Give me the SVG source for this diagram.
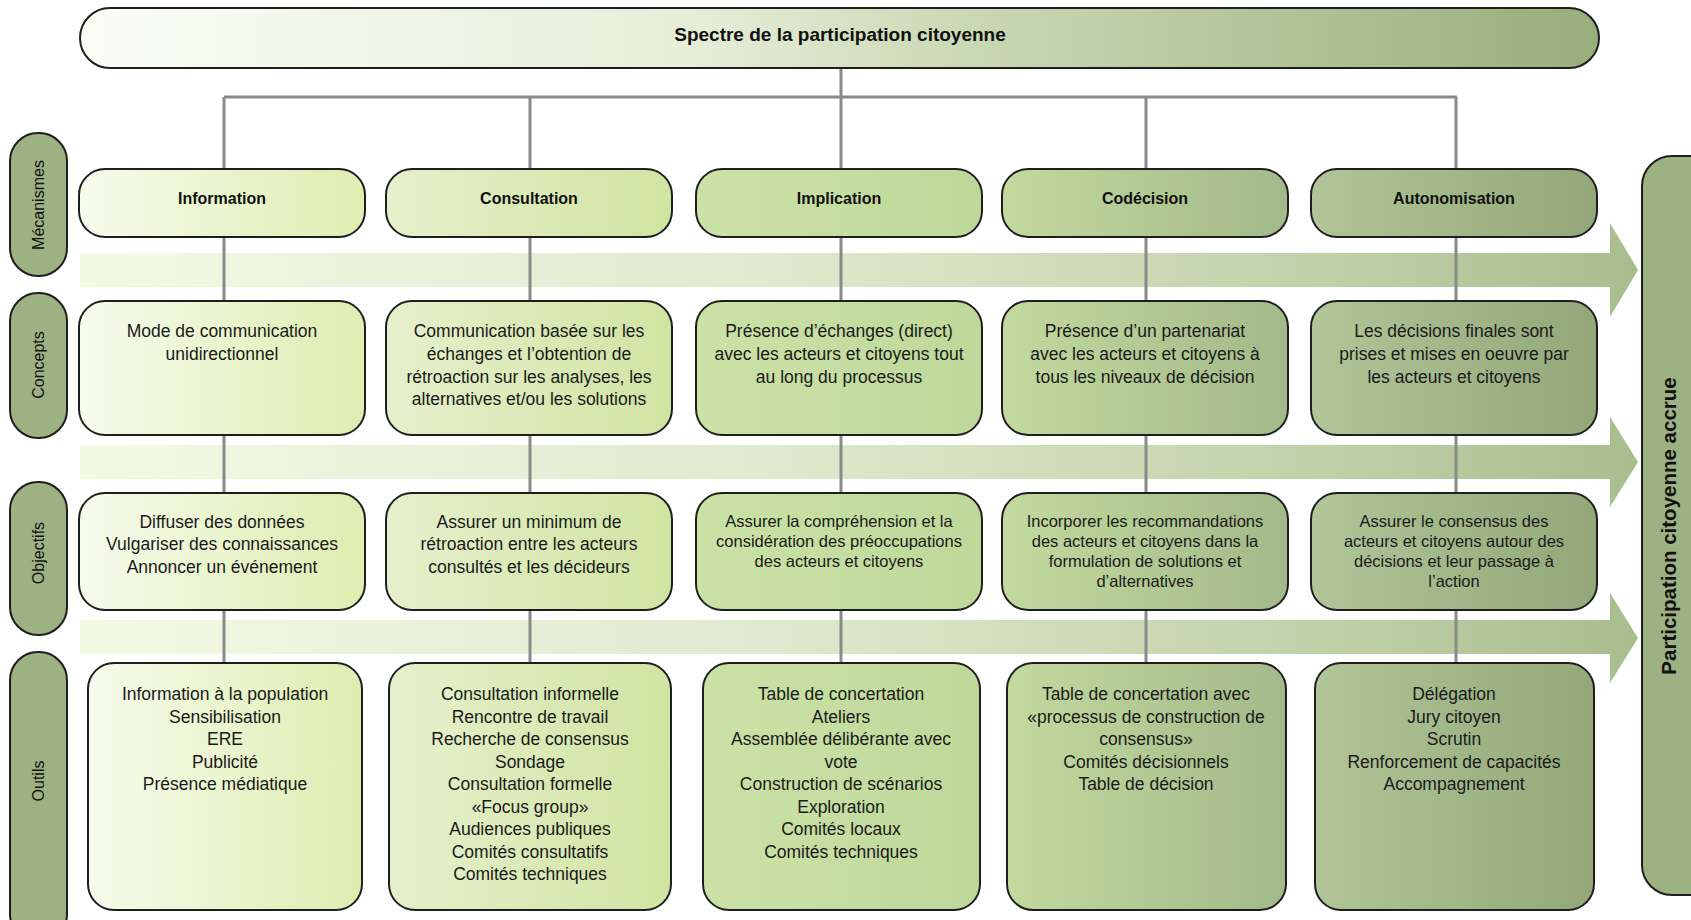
<svg xmlns="http://www.w3.org/2000/svg" width="1691" height="920" viewBox="0 0 1691 920">
<style>
.box{stroke:#1e1e1e;stroke-width:2}
.pill{fill:#9db282;stroke:#1e1e1e;stroke-width:2}
.t{font-family:"Liberation Sans",Arial,sans-serif;font-size:17.5px;fill:#1a1a1a;text-anchor:middle}
.ts{font-family:"Liberation Sans",Arial,sans-serif;font-size:16.5px;fill:#1a1a1a;text-anchor:middle}
.h{font-family:"Liberation Sans",Arial,sans-serif;font-size:16px;font-weight:bold;fill:#111;text-anchor:middle}
.lab{font-family:"Liberation Sans",Arial,sans-serif;font-size:16px;fill:#111;text-anchor:middle}
.conn{stroke:#8a8a8a;stroke-width:3;fill:none}
</style>
<defs>
<linearGradient id="gTitle" x1="0" y1="0" x2="1" y2="0">
<stop offset="0" stop-color="#fbfdf5"/><stop offset="0.4" stop-color="#e6eed8"/><stop offset="0.6" stop-color="#c8d7b2"/><stop offset="1" stop-color="#98ae7b"/>
</linearGradient>
<linearGradient id="gBand" x1="0" y1="0" x2="1" y2="0">
<stop offset="0" stop-color="#f4f9e4"/><stop offset="0.45" stop-color="#dfe9cd"/><stop offset="0.8" stop-color="#c0d1a8"/><stop offset="1" stop-color="#a8bd8e"/>
</linearGradient>
<linearGradient id="g1" x1="0" y1="0" x2="1" y2="0"><stop offset="0" stop-color="#f7fbec"/><stop offset="1" stop-color="#deedb0"/></linearGradient>
<linearGradient id="g2" x1="0" y1="0" x2="1" y2="0"><stop offset="0" stop-color="#e6f0cc"/><stop offset="1" stop-color="#d0e4a2"/></linearGradient>
<linearGradient id="g3" x1="0" y1="0" x2="1" y2="0"><stop offset="0" stop-color="#cbe2a6"/><stop offset="1" stop-color="#bed89a"/></linearGradient>
<linearGradient id="g4" x1="0" y1="0" x2="1" y2="0"><stop offset="0" stop-color="#c2da9e"/><stop offset="1" stop-color="#a2b98a"/></linearGradient>
<linearGradient id="g5" x1="0" y1="0" x2="1" y2="0"><stop offset="0" stop-color="#b0c698"/><stop offset="1" stop-color="#92a879"/></linearGradient>
</defs>
<rect width="1691" height="920" fill="#ffffff"/>

<g id="bands">
<path d="M80 253 H1610 V223 L1638 270 L1610 317 V287 H80 Z" fill="url(#gBand)"/>
<path d="M80 445 H1610 V417 L1638 462 L1610 507 V479 H80 Z" fill="url(#gBand)"/>
<path d="M80 620 H1610 V593 L1638 638 L1610 683 V654 H80 Z" fill="url(#gBand)"/>
</g>

<g id="connectors">
<path class="conn" d="M841 68 V97 M224 97 H1457"/>
<path class="conn" d="M224 97 V663 M530 97 V663 M841 97 V663 M1146 97 V663 M1456 97 V663"/>
</g>

<g id="title">
<rect class="box" x="80" y="8" width="1519" height="60" rx="30" fill="url(#gTitle)"/>
<text x="840" y="41" style="font-family:'Liberation Sans',Arial,sans-serif;font-size:19px;font-weight:bold;fill:#111;text-anchor:middle">Spectre de la participation citoyenne</text>
</g>

<g id="label-mecanismes">
<rect class="pill" x="10" y="133" width="57" height="143" rx="28"/>
<text class="lab" transform="translate(44 205) rotate(-90)" x="0" y="0">Mécanismes</text>
</g>
<g id="label-concepts">
<rect class="pill" x="10" y="293" width="57" height="145" rx="28"/>
<text class="lab" transform="translate(44 365) rotate(-90)" x="0" y="0">Concepts</text>
</g>
<g id="label-objectifs">
<rect class="pill" x="10" y="482" width="57" height="153" rx="28"/>
<text class="lab" transform="translate(44 553) rotate(-90)" x="0" y="0">Objectifs</text>
</g>
<g id="label-outils">
<rect class="pill" x="10" y="652" width="57" height="290" rx="28"/>
<text class="lab" transform="translate(44 781) rotate(-90)" x="0" y="0">Outils</text>
</g>

<g id="participation">
<rect class="pill" x="1642" y="156" width="80" height="739" rx="30"/>
<text transform="translate(1676 526) rotate(-90)" x="0" y="0" style="font-family:'Liberation Sans',Arial,sans-serif;font-size:20.5px;font-weight:bold;fill:#111;text-anchor:middle">Participation citoyenne accrue</text>
</g>

<!-- Mécanismes -->
<g id="mec-information"><rect class="box" x="79" y="169" width="286" height="68" rx="26" fill="url(#g1)"/><text class="h" x="222" y="204">Information</text></g>
<g id="mec-consultation"><rect class="box" x="386" y="169" width="286" height="68" rx="26" fill="url(#g2)"/><text class="h" x="529" y="204">Consultation</text></g>
<g id="mec-implication"><rect class="box" x="696" y="169" width="286" height="68" rx="26" fill="url(#g3)"/><text class="h" x="839" y="204">Implication</text></g>
<g id="mec-codecision"><rect class="box" x="1002" y="169" width="286" height="68" rx="26" fill="url(#g4)"/><text class="h" x="1145" y="204">Codécision</text></g>
<g id="mec-autonomisation"><rect class="box" x="1311" y="169" width="286" height="68" rx="26" fill="url(#g5)"/><text class="h" x="1454" y="204">Autonomisation</text></g>

<!-- Concepts -->
<g id="con-information"><rect class="box" x="79" y="301" width="286" height="134" rx="26" fill="url(#g1)"/>
<text class="t"><tspan x="222" y="337">Mode de communication</tspan><tspan x="222" y="360">unidirectionnel</tspan></text></g>
<g id="con-consultation"><rect class="box" x="386" y="301" width="286" height="134" rx="26" fill="url(#g2)"/>
<text class="t"><tspan x="529" y="337">Communication basée sur les</tspan><tspan x="529" y="360">échanges et l’obtention de</tspan><tspan x="529" y="383">rétroaction sur les analyses, les</tspan><tspan x="529" y="405">alternatives et/ou les solutions</tspan></text></g>
<g id="con-implication"><rect class="box" x="696" y="301" width="286" height="134" rx="26" fill="url(#g3)"/>
<text class="t"><tspan x="839" y="337">Présence d’échanges (direct)</tspan><tspan x="839" y="360">avec les acteurs et citoyens tout</tspan><tspan x="839" y="383">au long du processus</tspan></text></g>
<g id="con-codecision"><rect class="box" x="1002" y="301" width="286" height="134" rx="26" fill="url(#g4)"/>
<text class="t"><tspan x="1145" y="337">Présence d’un partenariat</tspan><tspan x="1145" y="360">avec les acteurs et citoyens à</tspan><tspan x="1145" y="383">tous les niveaux de décision</tspan></text></g>
<g id="con-autonomisation"><rect class="box" x="1311" y="301" width="286" height="134" rx="26" fill="url(#g5)"/>
<text class="t"><tspan x="1454" y="337">Les décisions finales sont</tspan><tspan x="1454" y="360">prises et mises en oeuvre par</tspan><tspan x="1454" y="383">les acteurs et citoyens</tspan></text></g>

<!-- Objectifs -->
<g id="obj-information"><rect class="box" x="79" y="493" width="286" height="117" rx="26" fill="url(#g1)"/>
<text class="t"><tspan x="222" y="528">Diffuser des données</tspan><tspan x="222" y="550">Vulgariser des connaissances</tspan><tspan x="222" y="573">Annoncer un événement</tspan></text></g>
<g id="obj-consultation"><rect class="box" x="386" y="493" width="286" height="117" rx="26" fill="url(#g2)"/>
<text class="t"><tspan x="529" y="528">Assurer un minimum de</tspan><tspan x="529" y="550">rétroaction entre les acteurs</tspan><tspan x="529" y="573">consultés et les décideurs</tspan></text></g>
<g id="obj-implication"><rect class="box" x="696" y="493" width="286" height="117" rx="26" fill="url(#g3)"/>
<text class="ts"><tspan x="839" y="527">Assurer la compréhension et la</tspan><tspan x="839" y="547">considération des préoccupations</tspan><tspan x="839" y="567">des acteurs et citoyens</tspan></text></g>
<g id="obj-codecision"><rect class="box" x="1002" y="493" width="286" height="117" rx="26" fill="url(#g4)"/>
<text class="ts"><tspan x="1145" y="527">Incorporer les recommandations</tspan><tspan x="1145" y="547">des acteurs et citoyens dans la</tspan><tspan x="1145" y="567">formulation de solutions et</tspan><tspan x="1145" y="587">d’alternatives</tspan></text></g>
<g id="obj-autonomisation"><rect class="box" x="1311" y="493" width="286" height="117" rx="26" fill="url(#g5)"/>
<text class="ts"><tspan x="1454" y="527">Assurer le consensus des</tspan><tspan x="1454" y="547">acteurs et citoyens autour des</tspan><tspan x="1454" y="567">décisions et leur passage à</tspan><tspan x="1454" y="587">l’action</tspan></text></g>

<!-- Outils -->
<g id="out-information"><rect class="box" x="88" y="663" width="274" height="247" rx="26" fill="url(#g1)"/>
<text class="t"><tspan x="225" y="700">Information à la population</tspan><tspan x="225" y="722.5">Sensibilisation</tspan><tspan x="225" y="745">ERE</tspan><tspan x="225" y="767.5">Publicité</tspan><tspan x="225" y="790">Présence médiatique</tspan></text></g>
<g id="out-consultation"><rect class="box" x="389" y="663" width="282" height="247" rx="26" fill="url(#g2)"/>
<text class="t"><tspan x="530" y="700">Consultation informelle</tspan><tspan x="530" y="722.5">Rencontre de travail</tspan><tspan x="530" y="745">Recherche de consensus</tspan><tspan x="530" y="767.5">Sondage</tspan><tspan x="530" y="790">Consultation formelle</tspan><tspan x="530" y="812.5">«Focus group»</tspan><tspan x="530" y="835">Audiences publiques</tspan><tspan x="530" y="857.5">Comités consultatifs</tspan><tspan x="530" y="880">Comités techniques</tspan></text></g>
<g id="out-implication"><rect class="box" x="703" y="663" width="277" height="247" rx="26" fill="url(#g3)"/>
<text class="t"><tspan x="841" y="700">Table de concertation</tspan><tspan x="841" y="722.5">Ateliers</tspan><tspan x="841" y="745">Assemblée délibérante avec</tspan><tspan x="841" y="767.5">vote</tspan><tspan x="841" y="790">Construction de scénarios</tspan><tspan x="841" y="812.5">Exploration</tspan><tspan x="841" y="835">Comités locaux</tspan><tspan x="841" y="857.5">Comités techniques</tspan></text></g>
<g id="out-codecision"><rect class="box" x="1007" y="663" width="279" height="247" rx="26" fill="url(#g4)"/>
<text class="t"><tspan x="1146" y="700">Table de concertation avec</tspan><tspan x="1146" y="722.5">«processus de construction de</tspan><tspan x="1146" y="745">consensus»</tspan><tspan x="1146" y="767.5">Comités décisionnels</tspan><tspan x="1146" y="790">Table de décision</tspan></text></g>
<g id="out-autonomisation"><rect class="box" x="1315" y="663" width="279" height="247" rx="26" fill="url(#g5)"/>
<text class="t"><tspan x="1454" y="700">Délégation</tspan><tspan x="1454" y="722.5">Jury citoyen</tspan><tspan x="1454" y="745">Scrutin</tspan><tspan x="1454" y="767.5">Renforcement de capacités</tspan><tspan x="1454" y="790">Accompagnement</tspan></text></g>
</svg>
